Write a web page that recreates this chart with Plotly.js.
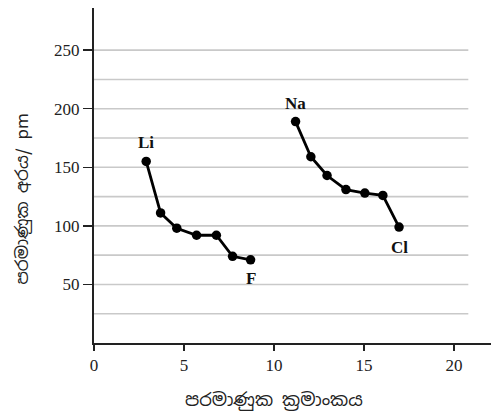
<!DOCTYPE html>
<html>
<head>
<meta charset="utf-8">
<script src="https://cdn.plot.ly/plotly-3.0.1.min.js"></script>
<style>html,body{margin:0;padding:0;background:#fff;}#chart{width:491px;height:414px;}</style>
</head>
<body>
<div id="chart"></div>
<script>
// Period 2 (Li .. F)
const period2Z = [2.9, 3.7, 4.6, 5.7, 6.8, 7.7, 8.7];
const period2R = [155, 111, 98, 92, 92, 74, 71];
// Period 3 (Na .. Cl)
const period3Z = [11.2, 12.05, 12.95, 14.0, 15.05, 16.05, 16.95];
const period3R = [189, 159, 143, 131, 128, 126, 99];
const elementLabels = ["Li", "F", "Na", "Cl"];
const yTicks = [50, 100, 150, 200, 250];
const xTicks = [0, 5, 10, 15, 20];
const gridValues = [25, 50, 75, 100, 125, 150, 175, 200, 225, 250];

const serif = "Liberation Serif, Times New Roman, serif";
const sinhala = "Noto Sans Sinhala, Noto Serif Sinhala, Iskoola Pota, Noto Sans, sans-serif";

const lineStyle = {color: "#000", width: 2.8};
const markerStyle = {color: "#000", size: 9.5};

const traces = [
  {x: period2Z, y: period2R, mode: "lines+markers", line: lineStyle, marker: markerStyle, hoverinfo: "none"},
  {x: period3Z, y: period3R, mode: "lines+markers", line: lineStyle, marker: markerStyle, hoverinfo: "none"}
];

const shapes = gridValues.map(v => ({
  type: "line", xref: "x", yref: "y", x0: 0, x1: 20.8, y0: v, y1: v,
  line: {color: "#c9c9c9", width: 1.6}, layer: "below"
}));

const labelFont = {family: serif, size: 17, color: "#111", weight: "bold"};
const annotations = [
  {x: period2Z[0], y: period2R[0], text: "<b>" + elementLabels[0] + "</b>", showarrow: false, yshift: 19, font: labelFont},
  {x: period2Z[6], y: period2R[6], text: "<b>" + elementLabels[1] + "</b>", showarrow: false, yshift: -19, font: labelFont},
  {x: period3Z[0], y: period3R[0], text: "<b>" + elementLabels[2] + "</b>", showarrow: false, yshift: 18, font: labelFont},
  {x: period3Z[6], y: period3R[6], text: "<b>" + elementLabels[3] + "</b>", showarrow: false, yshift: -20, font: labelFont},
  {xref: "paper", yref: "paper", x: -0.215, y: 0.43, text: "පරමාණුක අරය/ pm", textangle: -90, showarrow: false,
   font: {family: sinhala, size: 17, color: "#222"}},
  {xref: "paper", yref: "paper", x: 0.453, y: -0.17, yanchor: "middle", text: "පරමාණුක ක්‍රමාංකය", showarrow: false,
   font: {family: sinhala, size: 18, color: "#222"}}
];

const layout = {
  width: 491, height: 414,
  margin: {l: 94, r: 0, t: 8, b: 71},
  paper_bgcolor: "#fff", plot_bgcolor: "#fff",
  showlegend: false,
  xaxis: {
    range: [0, 22.06], tickvals: xTicks, ticktext: xTicks.map(String),
    showgrid: false, zeroline: false, showline: true, linecolor: "#222", linewidth: 2,
    ticks: "outside", ticklen: 6, tickwidth: 1.5, tickcolor: "#222",
    tickfont: {family: serif, size: 17, color: "#222"}
  },
  yaxis: {
    range: [0, 286], tickvals: yTicks, ticktext: yTicks.map(String),
    showgrid: false, zeroline: false, showline: true, linecolor: "#222", linewidth: 2,
    ticks: "outside", ticklen: 9, tickwidth: 1.5, tickcolor: "#222",
    tickfont: {family: serif, size: 17, color: "#222"}
  },
  shapes: shapes,
  annotations: annotations
};

Plotly.newPlot("chart", traces, layout, {displayModeBar: false, staticPlot: true});
</script>
</body>
</html>
